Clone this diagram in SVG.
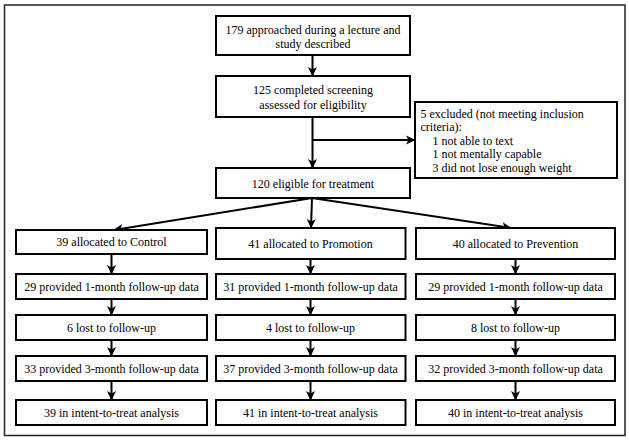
<svg xmlns="http://www.w3.org/2000/svg" width="629" height="441" viewBox="0 0 629 441">
<style>
  .box { fill: #ffffff; stroke: #000000; stroke-width: 2; }
  text { font-family: 'Liberation Serif', 'DejaVu Serif', serif; font-size: 12px; fill: #000000; }
  .c { text-anchor: middle; }
  .conn { stroke: #000000; stroke-width: 2; fill: none; marker-end: url(#ah); }
</style>
<defs>
  <marker id="ah" markerUnits="userSpaceOnUse" markerWidth="10" markerHeight="10" refX="9" refY="5" orient="auto" viewBox="0 0 10 10">
    <path d="M0,0.5 L9.5,5 L0,9.5 L2.5,5 z" fill="#000000"/>
  </marker>
</defs>
<rect x="0" y="0" width="629" height="441" fill="#ffffff"/>
<rect id="frame" x="4.5" y="5" width="620.5" height="430.5" fill="none" stroke="#222222" stroke-width="1.5"/>

<g id="connectors">
  <line class="conn" x1="312.5" y1="55" x2="312.5" y2="76"/>
  <line class="conn" x1="312.5" y1="117" x2="312.5" y2="168"/>
  <line class="conn" x1="312.5" y1="140" x2="415" y2="140"/>
  <line class="conn" x1="312" y1="198" x2="114" y2="230"/>
  <line class="conn" x1="312" y1="198" x2="311" y2="228"/>
  <line class="conn" x1="312" y1="198" x2="511" y2="228"/>
  <line class="conn" x1="111.5" y1="254" x2="111.5" y2="274"/>
  <line class="conn" x1="111.5" y1="299" x2="111.5" y2="315"/>
  <line class="conn" x1="111.5" y1="340" x2="111.5" y2="356"/>
  <line class="conn" x1="111.5" y1="381" x2="111.5" y2="400"/>
  <line class="conn" x1="310.5" y1="259" x2="310.5" y2="274"/>
  <line class="conn" x1="310.5" y1="299" x2="310.5" y2="315"/>
  <line class="conn" x1="310.5" y1="340" x2="310.5" y2="356"/>
  <line class="conn" x1="310.5" y1="381" x2="310.5" y2="400"/>
  <line class="conn" x1="515.5" y1="259" x2="515.5" y2="274"/>
  <line class="conn" x1="515.5" y1="299" x2="515.5" y2="315"/>
  <line class="conn" x1="515.5" y1="340" x2="515.5" y2="356"/>
  <line class="conn" x1="515.5" y1="381" x2="515.5" y2="400"/>
</g>

<g id="approached">
  <rect class="box" x="216" y="16" width="194" height="39"/>
  <text class="c" x="313" y="34">179 approached during a lecture and</text>
  <text class="c" x="313" y="48">study described</text>
</g>
<g id="screening">
  <rect class="box" x="216" y="76" width="194" height="41"/>
  <text class="c" x="313" y="94">125 completed screening</text>
  <text class="c" x="313" y="108.5">assessed for eligibility</text>
</g>
<g id="excluded">
  <rect class="box" x="415" y="102" width="202" height="76"/>
  <text x="420.5" y="117.5">5 excluded (not meeting inclusion</text>
  <text x="420.5" y="131">criteria):</text>
  <text x="432.5" y="144.5">1 not able to text</text>
  <text x="432.5" y="158">1 not mentally capable</text>
  <text x="432.5" y="171.5">3 did not lose enough weight</text>
</g>
<g id="eligible">
  <rect class="box" x="216" y="168" width="194" height="30"/>
  <text class="c" x="313" y="187.5">120 eligible for treatment</text>
</g>

<g id="control-alloc">
  <rect class="box" x="16" y="230" width="191" height="24"/>
  <text class="c" x="111.5" y="246">39 allocated to Control</text>
</g>
<g id="promotion-alloc">
  <rect class="box" x="216" y="228" width="189.5" height="31"/>
  <text class="c" x="310.5" y="248">41 allocated to Promotion</text>
</g>
<g id="prevention-alloc">
  <rect class="box" x="416" y="228" width="199" height="31"/>
  <text class="c" x="515.5" y="248">40 allocated to Prevention</text>
</g>

<g id="control-1m">
  <rect class="box" x="16" y="274" width="191" height="25"/>
  <text class="c" x="111.5" y="290.5">29 provided 1-month follow-up data</text>
</g>
<g id="promotion-1m">
  <rect class="box" x="216" y="274" width="189.5" height="25"/>
  <text class="c" x="310.5" y="290.5">31 provided 1-month follow-up data</text>
</g>
<g id="prevention-1m">
  <rect class="box" x="416" y="274" width="199" height="25"/>
  <text class="c" x="515.5" y="290.5">29 provided 1-month follow-up data</text>
</g>

<g id="control-lost">
  <rect class="box" x="16" y="315" width="191" height="25"/>
  <text class="c" x="111.5" y="331.5">6 lost to follow-up</text>
</g>
<g id="promotion-lost">
  <rect class="box" x="216" y="315" width="189.5" height="25"/>
  <text class="c" x="310.5" y="331.5">4 lost to follow-up</text>
</g>
<g id="prevention-lost">
  <rect class="box" x="416" y="315" width="199" height="25"/>
  <text class="c" x="515.5" y="331.5">8 lost to follow-up</text>
</g>

<g id="control-3m">
  <rect class="box" x="16" y="356" width="191" height="25"/>
  <text class="c" x="111.5" y="372.5">33 provided 3-month follow-up data</text>
</g>
<g id="promotion-3m">
  <rect class="box" x="216" y="356" width="189.5" height="25"/>
  <text class="c" x="310.5" y="372.5">37 provided 3-month follow-up data</text>
</g>
<g id="prevention-3m">
  <rect class="box" x="416" y="356" width="199" height="25"/>
  <text class="c" x="515.5" y="372.5">32 provided 3-month follow-up data</text>
</g>

<g id="control-itt">
  <rect class="box" x="16" y="400" width="191" height="25"/>
  <text class="c" x="111.5" y="416.5">39 in intent-to-treat analysis</text>
</g>
<g id="promotion-itt">
  <rect class="box" x="216" y="400" width="189.5" height="25"/>
  <text class="c" x="310.5" y="416.5">41 in intent-to-treat analysis</text>
</g>
<g id="prevention-itt">
  <rect class="box" x="416" y="400" width="199" height="25"/>
  <text class="c" x="515.5" y="416.5">40 in intent-to-treat analysis</text>
</g>
</svg>
